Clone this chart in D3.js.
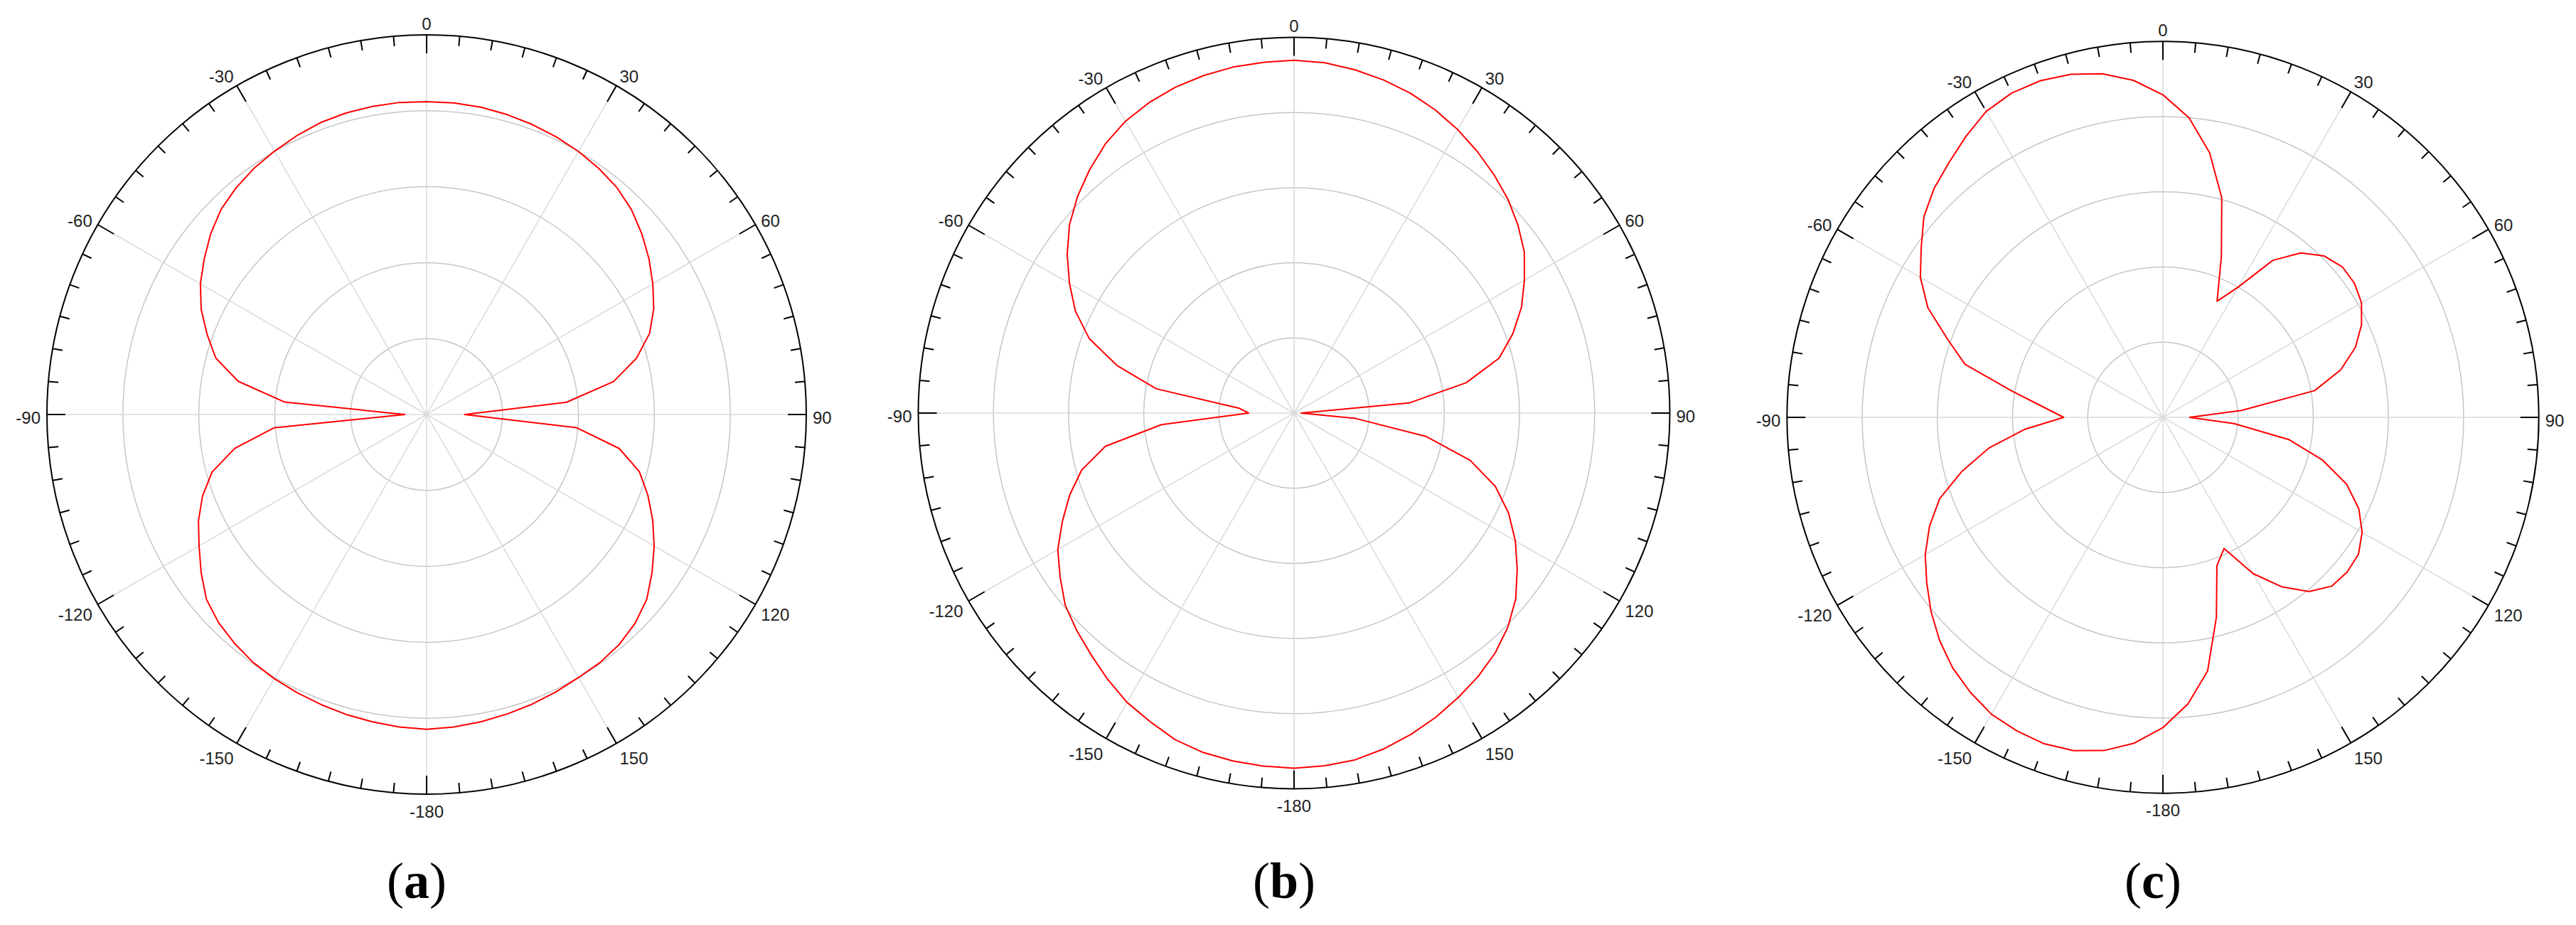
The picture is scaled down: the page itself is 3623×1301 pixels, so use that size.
<!DOCTYPE html>
<html>
<head>
<meta charset="utf-8">
<script src="https://cdn.jsdelivr.net/npm/d3@7"></script>
<style>
  html, body { margin: 0; padding: 0; background: #fff; }
  svg { display: block; }
</style>
</head>
<body>
<svg id="chart" width="3623" height="1301"></svg>
<script>
// ---------------- DATA ----------------
// Angles in degrees (0 at top, clockwise positive), 5° steps from -180 to 175
const angles = d3.range(-180, 180, 5);

// Normalised radiation pattern (radius as fraction of outer ring)
const patternA = [
  0.829, 0.826, 0.822, 0.818, 0.813, 0.808, 0.803, 0.797, 0.787, 0.775, 0.757, 0.725,
  0.692, 0.663, 0.628, 0.585, 0.513, 0.404, 0.0575, 0.375, 0.504, 0.575, 0.615, 0.655,
  0.688, 0.715, 0.742, 0.765, 0.780, 0.792, 0.801, 0.810, 0.818, 0.822, 0.824, 0.825,
  0.824, 0.824, 0.822, 0.818, 0.813, 0.807, 0.800, 0.791, 0.780, 0.763, 0.740, 0.715,
  0.688, 0.660, 0.625, 0.572, 0.500, 0.370, 0.100, 0.396, 0.515, 0.580, 0.620, 0.657,
  0.692, 0.725, 0.757, 0.777, 0.790, 0.797, 0.800, 0.806, 0.812, 0.817, 0.822, 0.826
];
const patternB = [
  0.945, 0.943, 0.940, 0.935, 0.925, 0.906, 0.889, 0.865, 0.840, 0.818, 0.795, 0.760,
  0.726, 0.680, 0.635, 0.585, 0.510, 0.354, 0.121, 0.146, 0.372, 0.487, 0.580, 0.642,
  0.690, 0.737, 0.780, 0.815, 0.846, 0.875, 0.897, 0.912, 0.923, 0.930, 0.935, 0.937,
  0.939, 0.936, 0.928, 0.918, 0.906, 0.890, 0.871, 0.850, 0.828, 0.805, 0.778, 0.748,
  0.708, 0.668, 0.620, 0.565, 0.465, 0.307, 0.019, 0.165, 0.356, 0.485, 0.570, 0.630,
  0.680, 0.725, 0.770, 0.805, 0.833, 0.855, 0.874, 0.893, 0.910, 0.925, 0.937, 0.942
];
const patternC = [
  0.8255, 0.870, 0.900, 0.918, 0.924, 0.920, 0.912, 0.893, 0.870, 0.840, 0.805, 0.767,
  0.730, 0.685, 0.632, 0.553, 0.470, 0.370, 0.264, 0.320, 0.410, 0.545, 0.610, 0.690,
  0.745, 0.785, 0.830, 0.861, 0.885, 0.913, 0.940, 0.952, 0.953, 0.945, 0.928, 0.900,
  0.858, 0.800, 0.715, 0.605, 0.455, 0.341, 0.400, 0.510, 0.571, 0.607, 0.623, 0.622,
  0.610, 0.583, 0.545, 0.490, 0.410, 0.210, 0.071, 0.190, 0.340, 0.440, 0.520, 0.575,
  0.612, 0.635, 0.640, 0.635, 0.605, 0.550, 0.480, 0.385, 0.420, 0.550, 0.685, 0.765
];

const ringTicks = [0.2, 0.4, 0.6, 0.8];
const angleLabels = [0, 30, 60, 90, 120, 150, -180, -150, -120, -90, -60, -30];
const panelNames = ["a", "b", "c"];

// ---------------- LAYOUT ----------------
const panels = [
  { name: panelNames[0], data: patternA, cx: 600,  cy: 583, R: 534 },
  { name: panelNames[1], data: patternB, cx: 1820, cy: 581, R: 528.5 },
  { name: panelNames[2], data: patternC, cx: 3042, cy: 587, R: 528.7 }
];

const svg = d3.select("#chart");
const rad = d => d * Math.PI / 180;

panels.forEach(p => {
  const g = svg.append("g").attr("transform", `translate(${p.cx},${p.cy})`);
  const r = d3.scaleLinear().domain([0, 1]).range([0, p.R]);
  const a = d3.scaleLinear().domain([-180, 180]).range([-Math.PI, Math.PI]);

  // rings
  g.selectAll("circle.ring").data(ringTicks).join("circle")
    .attr("class", "ring")
    .attr("r", d => r(d))
    .attr("fill", "none")
    .attr("stroke", "#c6c6c6")
    .attr("stroke-width", 1.5);

  // spokes every 30°
  const spokes = d3.range(0, 360, 30);
  g.selectAll("line.spoke").data(spokes).join("line")
    .attr("class", "spoke")
    .attr("x1", 0).attr("y1", 0)
    .attr("x2", d => r(1) * Math.sin(rad(d)))
    .attr("y2", d => -r(1) * Math.cos(rad(d)))
    .attr("stroke", "#dadada")
    .attr("stroke-width", 1.5);

  // outer circle
  g.append("circle")
    .attr("r", r(1))
    .attr("fill", "none")
    .attr("stroke", "#000")
    .attr("stroke-width", 2);

  // ticks every 5°, major every 30°
  const tickAngles = d3.range(0, 360, 5);
  g.selectAll("line.tick").data(tickAngles).join("line")
    .attr("class", "tick")
    .attr("x1", d => r(1) * Math.sin(rad(d)))
    .attr("y1", d => -r(1) * Math.cos(rad(d)))
    .attr("x2", d => (r(1) - (d % 30 === 0 ? 26 : 14)) * Math.sin(rad(d)))
    .attr("y2", d => -(r(1) - (d % 30 === 0 ? 26 : 14)) * Math.cos(rad(d)))
    .attr("stroke", "#000")
    .attr("stroke-width", 2);

  // angle labels
  g.selectAll("text.alabel").data(angleLabels).join("text")
    .attr("class", "alabel")
    .attr("x", d => (r(1) + 9) * Math.sin(rad(d)))
    .attr("y", d => -r(1) * Math.cos(rad(d)) - 20 * Math.cos(rad(d)) + 4)
    .attr("dy", "0.36em")
    .attr("text-anchor", d => {
      const s = Math.sin(rad(d));
      return s > 0.1 ? "start" : (s < -0.1 ? "end" : "middle");
    })
    .attr("font-family", "'Liberation Sans', Arial, sans-serif")
    .attr("font-size", 24)
    .attr("fill", "#222")
    .text(d => d);

  // pattern curve
  const pts = angles.map((ang, i) => ({ ang, v: p.data[i] }));
  const line = d3.lineRadial()
    .angle(d => a(d.ang))
    .radius(d => r(d.v))
    .curve(d3.curveLinearClosed);
  g.append("path")
    .datum(pts)
    .attr("d", line)
    .attr("fill", "none")
    .attr("stroke", "#ff0000")
    .attr("stroke-width", 2)
    .attr("stroke-linejoin", "round");

  // panel label
  const t = svg.append("text")
    .attr("x", p.cx - 14)
    .attr("y", 1263)
    .attr("text-anchor", "middle")
    .attr("font-family", "'Liberation Serif', 'Times New Roman', serif")
    .attr("font-size", 72)
    .attr("fill", "#000");
  t.append("tspan").text("(");
  t.append("tspan").attr("font-weight", "bold").text(p.name);
  t.append("tspan").text(")");
});
</script>
</body>
</html>
